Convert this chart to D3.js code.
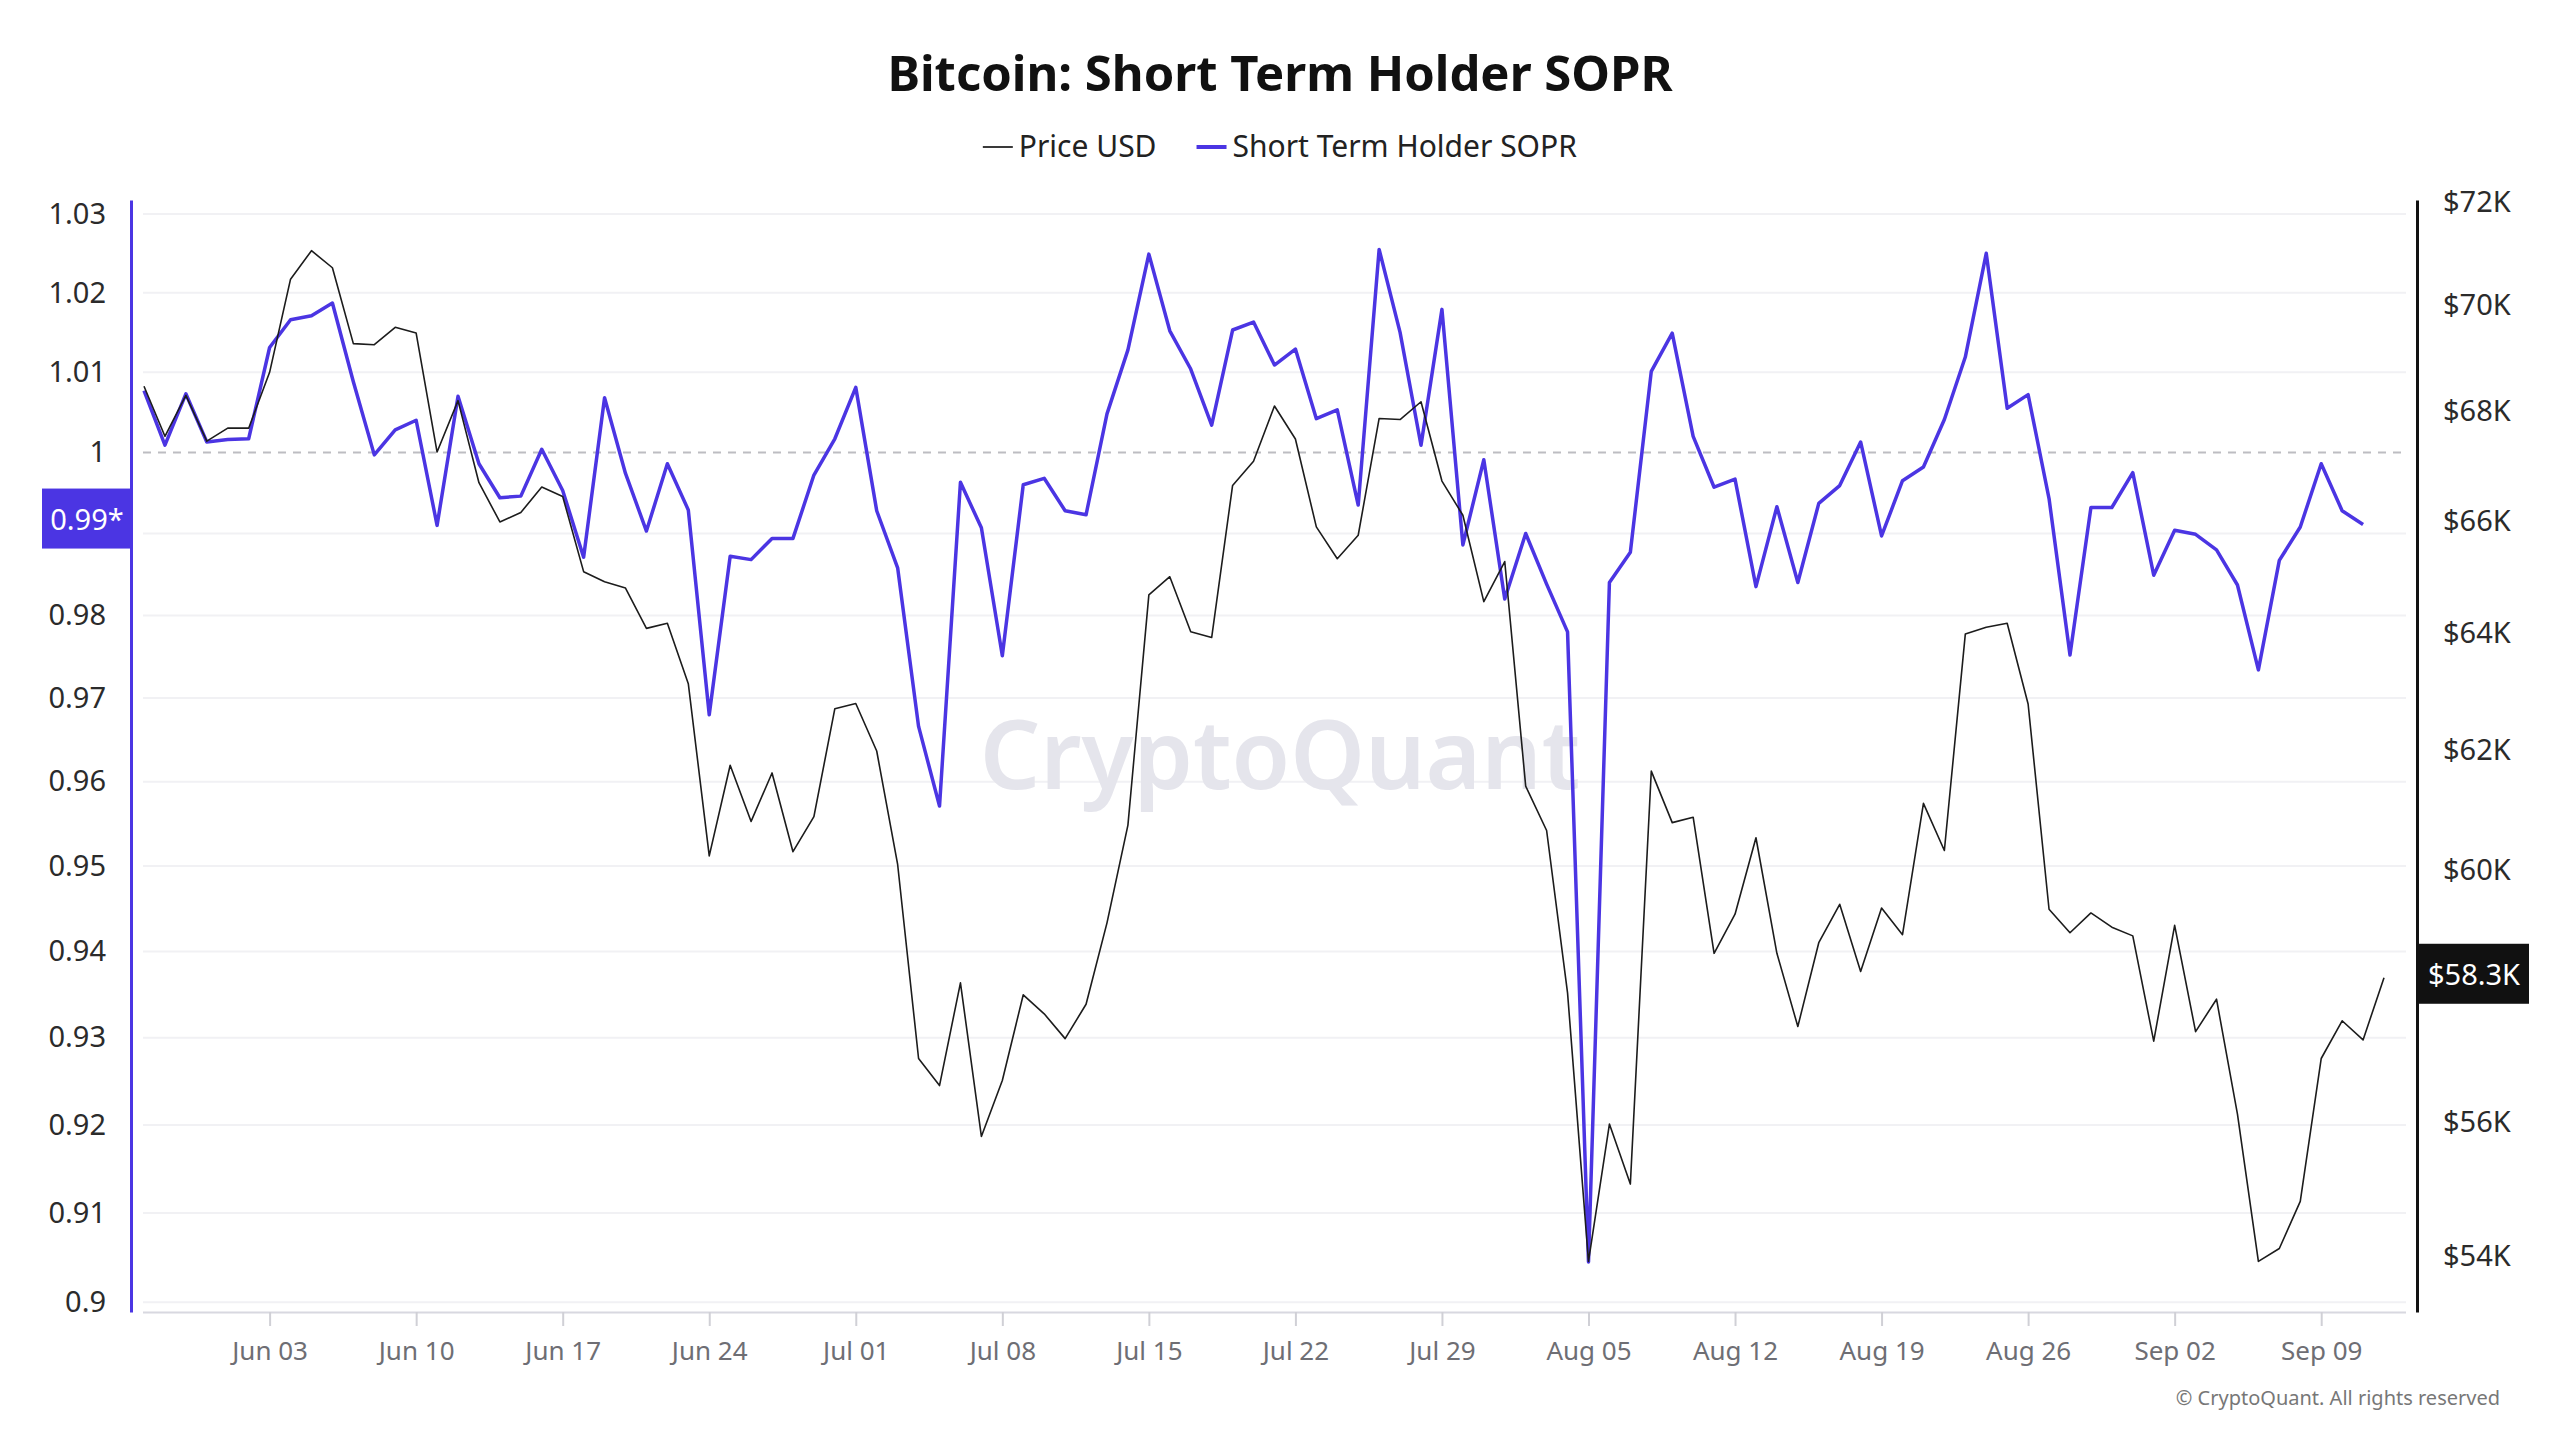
<!DOCTYPE html>
<meta charset="utf-8">
<script src="https://cdn.jsdelivr.net/npm/d3@7"></script>
<style>
    body { margin: 0; background: #fff; }
    svg text { font-family: "Noto Sans", "Open Sans", sans-serif; }
</style>
<body>
<svg width="2560" height="1440"></svg>
</body>
<script>

    // daily series, first day = 2024-05-28
    var startDay = "2024-05-28";

    // BTC price, thousand USD
    var priceK = [
        68.47, 67.54, 68.30, 67.45, 67.69, 67.69, 68.73, 70.50, 71.05, 70.72,
        69.27, 69.25, 69.58, 69.47, 67.25, 68.20, 66.69, 65.98, 66.15, 66.61,
        66.44, 65.09, 64.91, 64.80, 64.09, 64.18, 63.13, 60.23, 61.74, 60.80,
        61.61, 60.30, 60.88, 62.70, 62.79, 61.98, 60.09, 56.99, 56.57, 58.18,
        55.79, 56.65, 57.99, 57.69, 57.30, 57.84, 59.14, 60.74, 64.68, 65.00,
        64.03, 63.93, 66.64, 67.08, 68.10, 67.49, 65.89, 65.32, 65.74, 67.87,
        67.85, 68.18, 66.72, 66.10, 64.56, 65.27, 61.39, 60.65, 58.02, 53.92,
        55.98, 55.07, 61.64, 60.78, 60.87, 58.65, 59.28, 60.53, 58.65, 57.49,
        58.82, 59.44, 58.36, 59.38, 58.95, 61.10, 60.32, 63.99, 64.11, 64.18,
        62.78, 59.36, 58.98, 59.30, 59.07, 58.93, 57.26, 59.10, 57.41, 57.92,
        56.13, 53.92, 54.11, 54.81, 56.99, 57.58, 57.28, 58.26
    ];

    // short term holder SOPR (no value yet for the last day)
    var sopr = [
        1.0077, 1.0009, 1.0073, 1.0013, 1.0016, 1.0017, 1.0131, 1.0166, 1.0171, 1.0187,
        1.0088, 0.9997, 1.0028, 1.0040, 0.9910, 1.0070, 0.9986, 0.9944, 0.9946, 1.0004,
        0.9953, 0.9871, 1.0068, 0.9974, 0.9903, 0.9986, 0.9929, 0.9680, 0.9872, 0.9868,
        0.9894, 0.9894, 0.9972, 1.0017, 1.0081, 0.9928, 0.9858, 0.9666, 0.9571, 0.9963,
        0.9907, 0.9751, 0.9960, 0.9968, 0.9928, 0.9923, 1.0048, 1.0128, 1.0249, 1.0152,
        1.0104, 1.0034, 1.0153, 1.0163, 1.0109, 1.0129, 1.0042, 1.0053, 0.9935, 1.0255,
        1.0150, 1.0009, 1.0179, 0.9886, 0.9991, 0.9820, 0.9900, 0.9838, 0.9780, 0.9045,
        0.9840, 0.9877, 1.0101, 1.0149, 1.0020, 0.9957, 0.9967, 0.9835, 0.9933, 0.9840,
        0.9937, 0.9959, 1.0013, 0.9897, 0.9965, 0.9982, 1.0041, 1.0119, 1.0250, 1.0055,
        1.0072, 0.9943, 0.9752, 0.9932, 0.9932, 0.9975, 0.9849, 0.9904, 0.9899, 0.9880,
        0.9837, 0.9734, 0.9867, 0.9908, 0.9986, 0.9928, 0.9911
    ];

    var soprTicks = [0.9, 0.91, 0.92, 0.93, 0.94, 0.95, 0.96, 0.97, 0.98, 0.99, 1, 1.01, 1.02, 1.03];
    var priceTicks = [54, 56, 58, 60, 62, 64, 66, 68, 70, 72];
    var weekTicks = ["2024-06-03", "2024-06-10", "2024-06-17", "2024-06-24", "2024-07-01",
        "2024-07-08", "2024-07-15", "2024-07-22", "2024-07-29", "2024-08-05",
        "2024-08-12", "2024-08-19", "2024-08-26", "2024-09-02", "2024-09-09"];

    //颜色
    var clr_sopr = "#4b35e3",
        clr_price = "#1c1c1c",
        clr_grid = "#f1f1f4",
        clr_tick_txt = "#6e6e74";

    var plotLeft = 143, plotRight = 2406, plotTop = 200, plotBottom = 1312;

    var svg = d3.select('svg');
    svg.append('rect').attr('width', 2560).attr('height', 1440).attr('fill', '#fff');

    var parse = d3.utcParse("%Y-%m-%d");
    var day0 = parse(startDay);
    var dates = priceK.map(function (d, i) { return d3.utcDay.offset(day0, i); });

    var x = d3.scaleUtc()
        .domain([dates[0], dates[dates.length - 1]])
        .range([144, 2384]);
    var yL = d3.scaleLog().domain([0.8989, 1.0318]).range([plotBottom, plotTop]);
    var yR = d3.scaleLog().domain([53.18, 72.04]).range([plotBottom, plotTop]);

    var lastSopr = sopr[sopr.length - 1],
        lastPrice = priceK[priceK.length - 1];
    var tagLy = yL(lastSopr) - 6,
        tagRy = yR(lastPrice) - 4;

    // 网格线
    svg.append('g').selectAll('line')
        .data(soprTicks.filter(function (d) { return d !== 1; }))
        .enter().append('line')
        .attr('x1', plotLeft).attr('x2', plotRight)
        .attr('y1', function (d) { return yL(d); })
        .attr('y2', function (d) { return yL(d); })
        .attr('stroke', clr_grid)
        .attr('stroke-width', 2);

    svg.append('line')
        .attr('x1', plotLeft).attr('x2', plotRight)
        .attr('y1', yL(1)).attr('y2', yL(1))
        .attr('stroke', '#bdbdc2')
        .attr('stroke-width', 2)
        .attr('stroke-dasharray', '8,7');

    // watermark
    svg.append('text')
        .attr('x', 1280).attr('y', 752)
        .attr('text-anchor', 'middle')
        .attr('dominant-baseline', 'central')
        .style('font-size', '95px')
        .style('font-weight', 600)
        .attr('fill', '#e5e5ec')
        .text('CryptoQuant');

    // x axis
    svg.append('line')
        .attr('x1', plotLeft).attr('x2', plotRight)
        .attr('y1', plotBottom + 0.5).attr('y2', plotBottom + 0.5)
        .attr('stroke', '#d8d8e0').attr('stroke-width', 2);

    var xAxis = svg.append('g')
        .attr('transform', 'translate(0,' + plotBottom + ')')
        .call(d3.axisBottom(x)
            .tickValues(weekTicks.map(parse))
            .tickFormat(d3.utcFormat("%b %d"))
            .tickSize(14)
            .tickPadding(16));
    xAxis.select('.domain').remove();
    xAxis.selectAll('line').attr('stroke', '#d0d0d6').attr('stroke-width', 2);
    xAxis.selectAll('text')
        .style('font-size', '26px')
        .attr('fill', clr_tick_txt);

    // left axis, the label under the last-value tag is hidden
    var leftAxis = svg.append('g')
        .attr('transform', 'translate(131,0)')
        .call(d3.axisLeft(yL)
            .tickValues(soprTicks)
            .tickFormat(d3.format("~g"))
            .tickSize(0)
            .tickSizeOuter(0)
            .tickPadding(25));
    leftAxis.select('.domain').attr('stroke', clr_sopr).attr('stroke-width', 3);
    leftAxis.selectAll('text').style('font-size', '29px').attr('fill', '#2b2b2b');
    leftAxis.selectAll('.tick')
        .filter(function (d) { return Math.abs(yL(d) - tagLy) < 44; })
        .remove();

    // right axis
    var rightAxis = svg.append('g')
        .attr('transform', 'translate(2417,0)')
        .call(d3.axisRight(yR)
            .tickValues(priceTicks)
            .tickFormat(function (d) { return '$' + d + 'K'; })
            .tickSize(0)
            .tickSizeOuter(0)
            .tickPadding(26));
    rightAxis.select('.domain').attr('stroke', '#111').attr('stroke-width', 3);
    rightAxis.selectAll('text').style('font-size', '29px').attr('fill', '#2b2b2b');
    rightAxis.selectAll('.tick')
        .filter(function (d) { return Math.abs(yR(d) - tagRy) < 44; })
        .remove();

    // lines
    var soprLine = d3.line()
        .x(function (d, i) { return x(dates[i]); })
        .y(function (d) { return yL(d); });
    var priceLine = d3.line()
        .x(function (d, i) { return x(dates[i]); })
        .y(function (d) { return yR(d); });

    svg.append('path')
        .datum(sopr)
        .attr('d', soprLine)
        .attr('fill', 'none')
        .attr('stroke', clr_sopr)
        .attr('stroke-width', 3.5)
        .attr('stroke-linejoin', 'round');

    svg.append('path')
        .datum(priceK)
        .attr('d', priceLine)
        .attr('fill', 'none')
        .attr('stroke', clr_price)
        .attr('stroke-width', 1.6)
        .attr('stroke-linejoin', 'round');

    // last value tags
    var tagL = svg.append('g').attr('transform', 'translate(0,' + tagLy + ')');
    tagL.append('rect').attr('x', 42).attr('y', -30).attr('width', 89).attr('height', 60).attr('fill', clr_sopr);
    tagL.append('text')
        .attr('x', 87).attr('y', 0)
        .attr('text-anchor', 'middle').attr('dominant-baseline', 'central')
        .style('font-size', '29px').attr('fill', '#fff')
        .text(d3.format(".2f")(lastSopr) + '*');

    var tagR = svg.append('g').attr('transform', 'translate(0,' + tagRy + ')');
    tagR.append('rect').attr('x', 2419).attr('y', -30).attr('width', 110).attr('height', 60).attr('fill', '#111');
    tagR.append('text')
        .attr('x', 2474).attr('y', 0)
        .attr('text-anchor', 'middle').attr('dominant-baseline', 'central')
        .style('font-size', '29px').attr('fill', '#fff')
        .text('$' + d3.format(".1f")(lastPrice) + 'K');

    // title
    svg.append('text')
        .attr('x', 1280).attr('y', 91)
        .attr('text-anchor', 'middle')
        .style('font-size', '49px')
        .style('font-weight', 700)
        .attr('fill', '#111')
        .text('Bitcoin: Short Term Holder SOPR');

    // legend
    var legend = svg.append('g');
    var legendItems = [
        {name: 'Price USD', color: '#3a3a3a', w: 2},
        {name: 'Short Term Holder SOPR', color: clr_sopr, w: 4}
    ];
    var lx = 0;
    legendItems.forEach(function (item) {
        legend.append('line')
            .attr('x1', lx).attr('x2', lx + 30)
            .attr('y1', 147).attr('y2', 147)
            .attr('stroke', item.color).attr('stroke-width', item.w);
        var t = legend.append('text')
            .attr('x', lx + 36).attr('y', 157)
            .style('font-size', '30px')
            .attr('fill', '#222')
            .text(item.name);
        lx += 36 + t.node().getComputedTextLength() + 40;
    });
    var lb = legend.node().getBBox();
    legend.attr('transform', 'translate(' + (1280 - lb.width / 2) + ',0)');

    svg.append('text')
        .attr('x', 2500).attr('y', 1405)
        .attr('text-anchor', 'end')
        .style('font-size', '20px')
        .attr('fill', '#777')
        .text('\u00a9 CryptoQuant. All rights reserved');

</script>
